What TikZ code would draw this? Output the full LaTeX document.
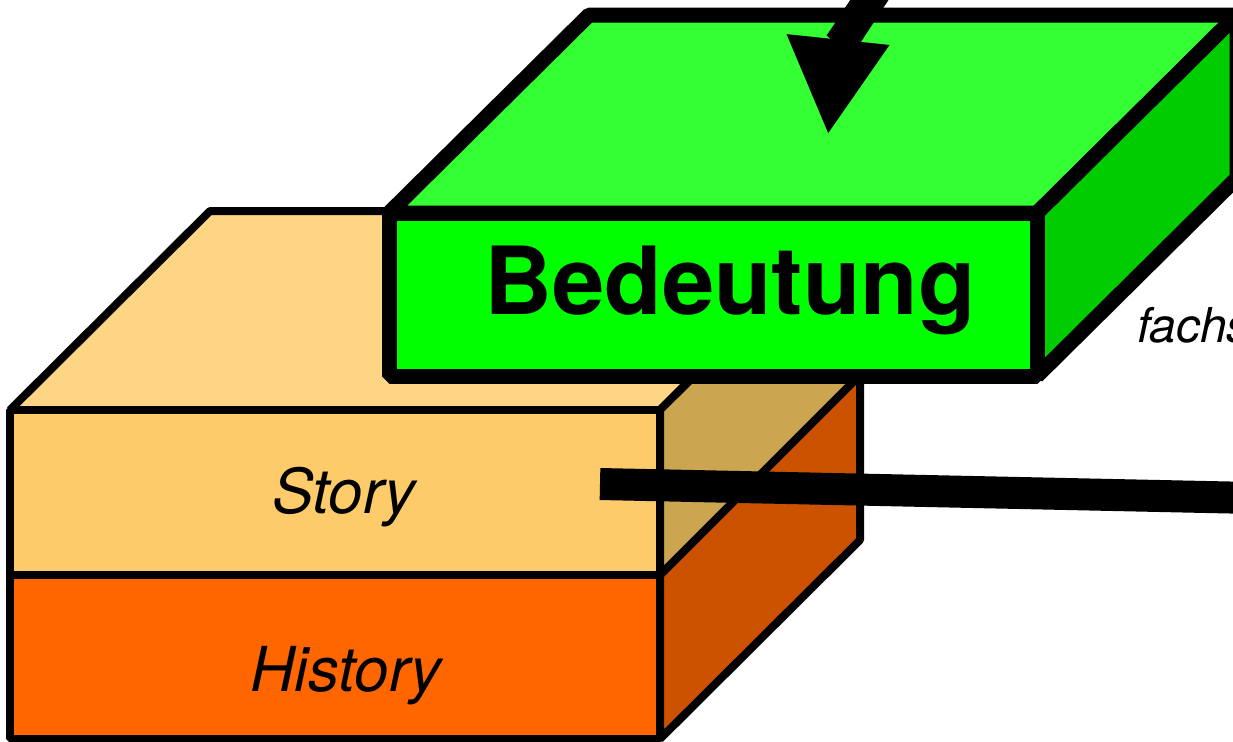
\documentclass[tikz,border=0pt]{standalone}
\usepackage{fontspec}
\setmainfont{TeX Gyre Heros}
\usetikzlibrary{arrows.meta}
\definecolor{storytop}{HTML}{FDD584}
\definecolor{storyfront}{HTML}{FDCB6A}
\definecolor{storyside}{HTML}{CCA550}
\definecolor{historyfront}{HTML}{FF6600}
\definecolor{historyside}{HTML}{CC5200}
\definecolor{greentop}{HTML}{33FF33}
\definecolor{greenfront}{HTML}{00FF00}
\definecolor{greenside}{HTML}{00CC00}
\begin{document}
\begin{tikzpicture}[x=0.5pt,y=-0.5pt,face/.style={draw, line width=4pt, line join=bevel},greenface/.style={draw, line width=7.5pt, line join=bevel},arrow/.style={line width=16pt, -{Triangle[length=48pt,width=48pt]}},bar/.style={line width=16pt},label/.style={font=\itshape\fontsize{31}{36}\selectfont, anchor=base, inner sep=0pt}]
\useasboundingbox (0,0) rectangle (1233,741);
\clip (0,0) rectangle (1233,741);
% orange block
\filldraw[face, fill=historyfront] (10,575) rectangle (660,739);
\filldraw[face, fill=historyside] (660,575) -- (860,375) -- (860,540) -- (660,739) -- cycle;
\filldraw[face, fill=storytop] (10,410) -- (210,211) -- (860,211) -- (660,410) -- cycle;
\filldraw[face, fill=storyside] (660,410) -- (860,211) -- (860,375) -- (660,575) -- cycle;
\filldraw[face, fill=storyfront] (10,410) rectangle (660,575);
\node[label] (story) at (344,513) {Story};
\node[label] (history) at (346,691) {History};
% green block
\filldraw[greenface, fill=greentop] (389,213) -- (589,15) -- (1237,15) -- (1037,213) -- cycle;
\filldraw[greenface, fill=greenside] (1037,213) -- (1237,15) -- (1237,178) -- (1037,376) -- cycle;
\filldraw[greenface, fill=greenfront] (389,213) rectangle (1037,376);
\node[font=\bfseries\fontsize{47}{56}\selectfont, anchor=base, inner sep=0pt] (meaning) at (730,314) {Bedeutung};
\node[font=\itshape\fontsize{24}{28}\selectfont, anchor=base west, inner sep=0pt] (fachs) at (1137,342) {fachs};
% connectors
\coordinate (barstart) at (600,484);
\coordinate (barend) at (1300,499);
\draw[bar] (barstart) -- (barend);
\coordinate (src) at (910,-60);
\coordinate (tip) at (828,135);
\draw[arrow] (src) to[out=235,in=84] (tip);
\end{tikzpicture}
\end{document}
